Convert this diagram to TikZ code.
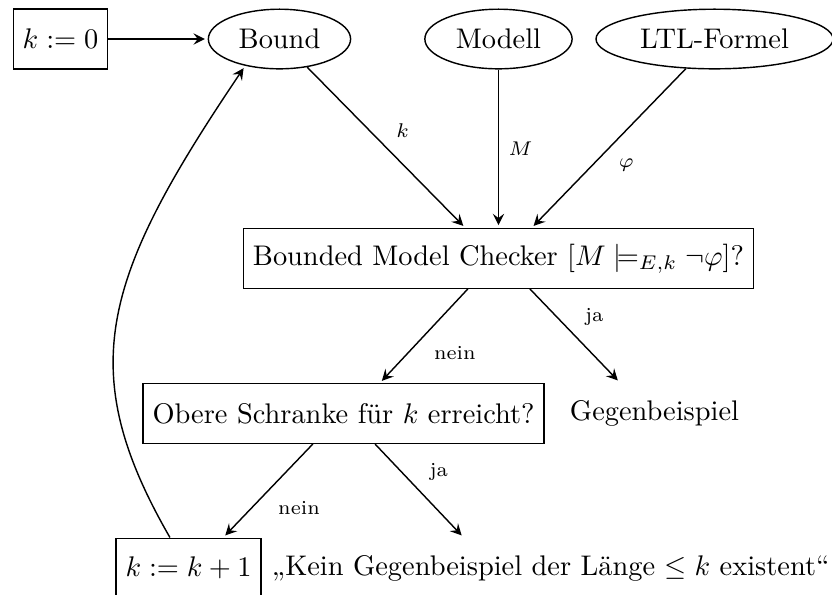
\documentclass[tikz,border=0pt]{standalone}
\usepackage{tikz}
\usetikzlibrary{shapes.geometric,arrows.meta,positioning}
\tikzset{
  nd_box/.style={
    rectangle, draw=black, minimum height=21pt},
  nd_ell/.style={
    ellipse, draw=black, minimum height=21pt},
  nd_txt/.style={
    rectangle, minimum height=21pt},
  arr/.style={-{Stealth[length=4pt,width=4pt,inset=1.5pt]}, shorten >=1pt},
  lbl/.style={font=\scriptsize},
}

\begin{document}
\begin{tikzpicture}[x=1cm,y=1cm,line width=0.5pt]

\useasboundingbox (0,0) rectangle (10.30,-7.366);

%% Eingaben
\node[nd_box] at (0.749,-0.483) (k0){$k := 0$};
\node[nd_ell] at (3.460,-0.483) (Bound){Bound};
\node[nd_ell] at (6.171,-0.483) (Modell){Modell};
\node[nd_ell] at (8.846,-0.483) (LTL){LTL-Formel};

%% Pruefung
\node[nd_box] at (6.171,-3.200) (BMC){Bounded Model Checker $[M \models_{E,k} \neg\varphi]$?};
\node[nd_box] at (4.253,-5.119) (Obere){Obere Schranke für $k$ erreicht?};
\node[nd_txt] at (8.103,-5.113) (Gegen){Gegenbeispiel};

%% Ausgaenge
\node[nd_box] at (2.334,-7.032) (kk1){$k := k+1$};
\node[nd_txt,right=0pt of kk1] (Kein){„Kein Gegenbeispiel der Länge $\leq k$ existent“};

\draw[arr] (k0)--(Bound);
\draw[arr] (Bound)--node[lbl,above right]{$k$} ([xshift=-0.41cm]BMC.north);
\draw[arr] (Modell)--node[lbl,right]{$M$} (BMC);
\draw[arr] (LTL)--node[lbl,below right]{$\varphi$} ([xshift=0.41cm]BMC.north);

\draw[arr] ([xshift=-0.38cm]BMC.south)--node[lbl,below right]{nein} ([xshift=0.45cm]Obere.north);
\draw[arr] ([xshift=0.39cm]BMC.south)--node[lbl,above right]{ja} ([xshift=-0.43cm]Gegen.north);

\draw[arr] ([xshift=-0.38cm]Obere.south)--node[lbl,below right]{nein} ([xshift=0.43cm]kk1.north);
\draw[arr] ([xshift=0.39cm]Obere.south)--node[lbl,above right]{ja} ([xshift=2.5cm]Kein.north west);

\draw[arr] ([xshift=-0.23cm]kk1.north) to[out=120,in=236,out distance=2.4cm,in distance=3.16cm] (Bound.218);

\end{tikzpicture}
\end{document}
